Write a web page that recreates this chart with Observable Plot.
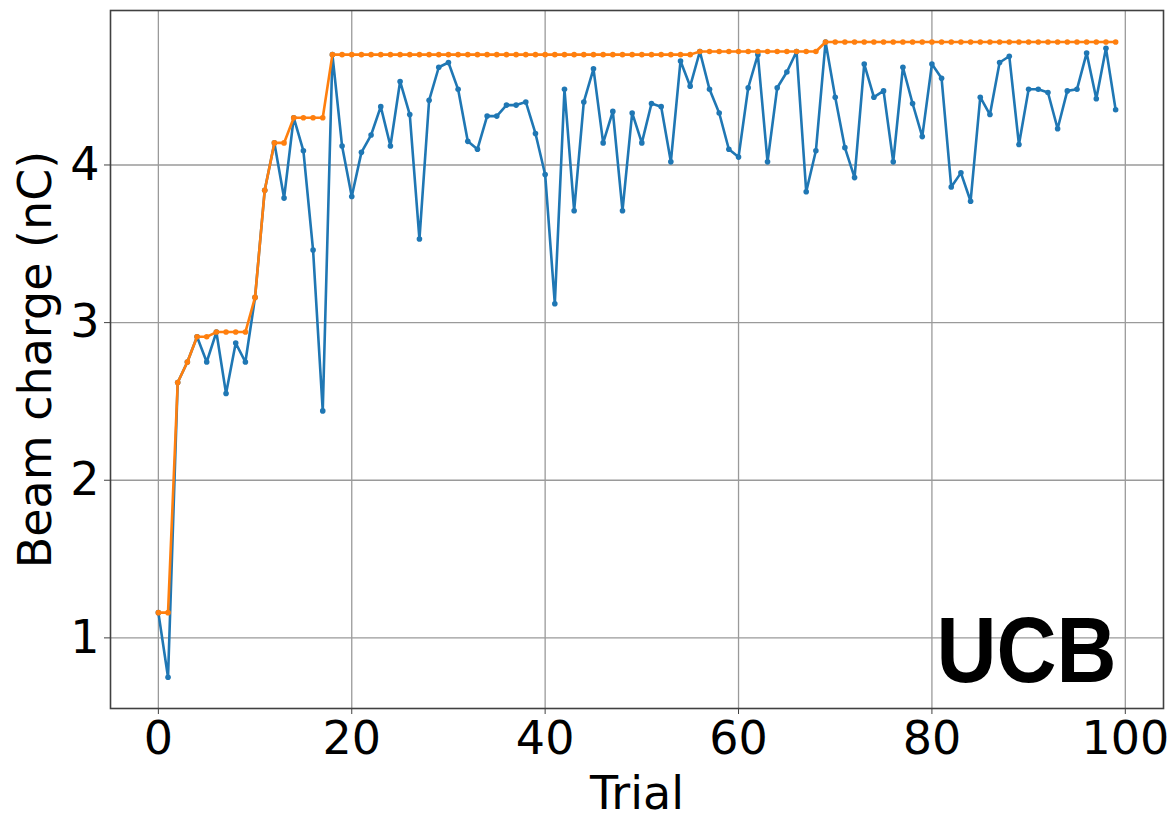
<!DOCTYPE html>
<html>
<head>
<meta charset="utf-8">
<script src="https://cdn.jsdelivr.net/npm/d3@7"></script>
<script src="https://cdn.jsdelivr.net/npm/@observablehq/plot@0.6"></script>
<style>
  html, body { margin: 0; padding: 0; background: #fff; }
  #chart svg { display: block; }
</style>
</head>
<body>
<div id="chart"></div>
<script>
// Trial numbers (x)
const trials = d3.range(100);

// Blue series: beam charge per trial (nC)
const charge = [
  1.16, 0.75, 2.62, 2.75, 2.91, 2.75, 2.94, 2.55, 2.87, 2.75,
  3.16, 3.84, 4.14, 3.79, 4.30, 4.09, 3.46, 2.44, 4.70, 4.12,
  3.80, 4.08, 4.19, 4.37, 4.12, 4.53, 4.32, 3.53, 4.41, 4.62,
  4.65, 4.48, 4.15, 4.10, 4.31, 4.31, 4.38, 4.38, 4.40, 4.20,
  3.94, 3.12, 4.48, 3.71, 4.40, 4.61, 4.14, 4.34, 3.71, 4.33,
  4.14, 4.39, 4.37, 4.02, 4.66, 4.50, 4.72, 4.48, 4.33, 4.10,
  4.05, 4.49, 4.70, 4.02, 4.49, 4.59, 4.72, 3.83, 4.09, 4.78,
  4.43, 4.11, 3.92, 4.64, 4.43, 4.47, 4.02, 4.62, 4.39, 4.18,
  4.64, 4.55, 3.86, 3.95, 3.77, 4.43, 4.32, 4.65, 4.69, 4.13,
  4.48, 4.48, 4.46, 4.23, 4.47, 4.48, 4.71, 4.42, 4.74, 4.35
];

// Orange series: best beam charge so far (nC)
const best = [
  1.16, 1.16, 2.62, 2.75, 2.91, 2.91, 2.94, 2.94, 2.94, 2.94,
  3.16, 3.84, 4.14, 4.14, 4.30, 4.30, 4.30, 4.30, 4.70, 4.70,
  4.70, 4.70, 4.70, 4.70, 4.70, 4.70, 4.70, 4.70, 4.70, 4.70,
  4.70, 4.70, 4.70, 4.70, 4.70, 4.70, 4.70, 4.70, 4.70, 4.70,
  4.70, 4.70, 4.70, 4.70, 4.70, 4.70, 4.70, 4.70, 4.70, 4.70,
  4.70, 4.70, 4.70, 4.70, 4.70, 4.70, 4.72, 4.72, 4.72, 4.72,
  4.72, 4.72, 4.72, 4.72, 4.72, 4.72, 4.72, 4.72, 4.72, 4.78,
  4.78, 4.78, 4.78, 4.78, 4.78, 4.78, 4.78, 4.78, 4.78, 4.78,
  4.78, 4.78, 4.78, 4.78, 4.78, 4.78, 4.78, 4.78, 4.78, 4.78,
  4.78, 4.78, 4.78, 4.78, 4.78, 4.78, 4.78, 4.78, 4.78, 4.78
];

const xTicks = [0, 20, 40, 60, 80, 100];
const yTicks = [1, 2, 3, 4];
const xLabel = "Trial";
const yLabel = "Beam charge (nC)";
const tag = "UCB";

const blueData = trials.map((t, i) => ({trial: t, value: charge[i]}));
const orangeData = trials.map((t, i) => ({trial: t, value: best[i]}));

const blue = "#1f77b4";
const orange = "#ff7f0e";
const axisColor = "#404040";
const gridColor = "#9a9a9a";
const font = "'DejaVu Sans', sans-serif";
const fs = 46;

const chart = Plot.plot({
  width: 1171,
  height: 813,
  marginLeft: 110,
  marginRight: 8,
  marginTop: 10,
  marginBottom: 105,
  style: {fontFamily: font, background: "#fff", color: "#000"},
  x: {domain: [-4.95, 103.95]},
  y: {domain: [0.552, 4.98]},
  marks: [
    Plot.gridX(xTicks, {stroke: gridColor, strokeOpacity: 1, strokeWidth: 1.3}),
    Plot.gridY(yTicks, {stroke: gridColor, strokeOpacity: 1, strokeWidth: 1.3}),
    Plot.line(blueData, {x: "trial", y: "value", stroke: blue, strokeWidth: 2.6}),
    Plot.dot(blueData, {x: "trial", y: "value", fill: blue, r: 2.8}),
    Plot.line(orangeData, {x: "trial", y: "value", stroke: orange, strokeWidth: 2.6}),
    Plot.dot(orangeData, {x: "trial", y: "value", fill: orange, r: 2.8}),
    Plot.frame({stroke: axisColor, strokeWidth: 1.6}),
    Plot.axisX(xTicks, {tickSize: 6, tickPadding: 7, fontSize: fs, label: null, tickFormat: d => String(d), stroke: axisColor, fill: "#000"}),
    Plot.axisY(yTicks, {tickSize: 6, tickPadding: 5, fontSize: fs, label: null, tickFormat: d => String(d), stroke: axisColor, fill: "#000"}),
    Plot.text([xLabel], {frameAnchor: "bottom", textAnchor: "middle", lineAnchor: "bottom", dy: 100, fontSize: fs, fill: "#000"}),
    Plot.text([yLabel], {frameAnchor: "left", textAnchor: "middle", rotate: -90, dx: -74, fontSize: fs, fill: "#000"}),
    Plot.text([tag], {frameAnchor: "bottom-right", textAnchor: "end", lineAnchor: "bottom", dx: -47, dy: -27,
      fontSize: 93, fontWeight: "bold", fontFamily: "'Liberation Sans', Arial, sans-serif", fill: "#000", className: "tag"})
  ]
});
document.getElementById("chart").appendChild(chart);
// condense the tag slightly to match the reference glyph width
d3.select(chart).selectAll("g.tag text, .tag text").attr("textLength", 180).attr("lengthAdjust", "spacingAndGlyphs");
</script>
</body>
</html>
